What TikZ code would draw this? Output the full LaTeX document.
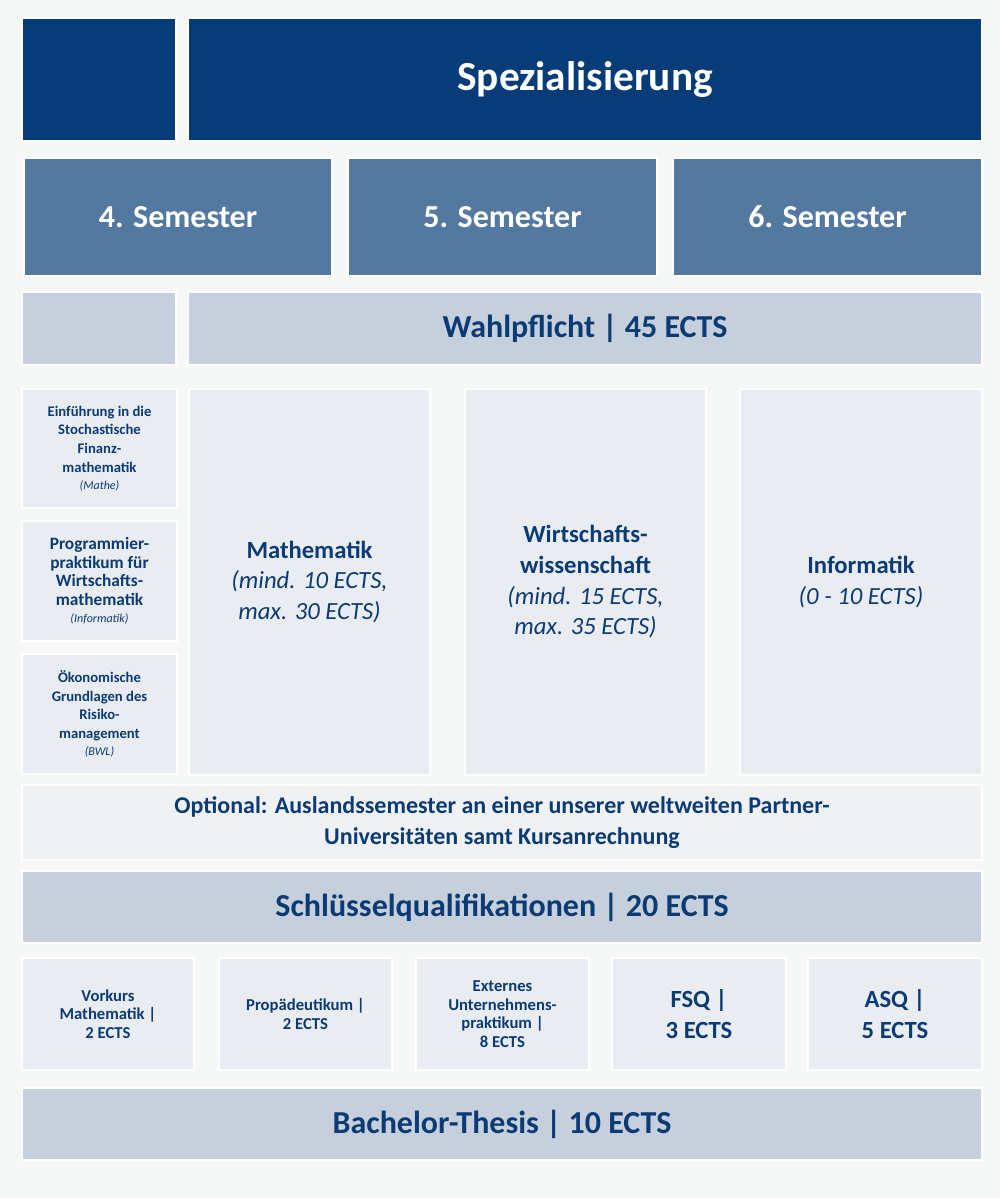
\documentclass[tikz,border=0pt]{standalone}
\usepackage{fontspec}
\setmainfont{Carlito}
\usetikzlibrary{positioning}
\definecolor{ink}{HTML}{0B3B74}
\definecolor{darkbox}{HTML}{083C78}
\definecolor{midbox}{HTML}{5479A0}
\definecolor{lightbox}{HTML}{C5D0DC}
\definecolor{paleblock}{HTML}{E9EDF2}
\definecolor{optbox}{HTML}{EFF1F2}
\definecolor{bg}{HTML}{F6F8F8}
% block from pixel corners: style, name, x0, y0, x1, y1, text
\newcommand{\blk}[7]{%
  \node[#1, minimum width={(#5-#3)*0.75pt}, minimum height={(#6-#4)*0.75pt}]
    (#2) at ({(#3+#5)/2},{(#4+#6)/2}) {#7};}
\begin{document}
\begin{tikzpicture}[x=0.75pt, y=-0.75pt,
  box/.style={draw=white, line width=1.5pt, inner sep=0pt, align=center, text=ink, font=\bfseries},
  head/.style={box, fill=darkbox, text=white, font=\fontsize{31}{36}\selectfont\bfseries},
  sem/.style={box, fill=midbox, text=white, font=\fontsize{24}{28}\selectfont\bfseries},
  band/.style={box, fill=lightbox, font=\fontsize{24}{28}\selectfont\bfseries},
  field/.style={box, fill=paleblock, font=\fontsize{18.5}{23}\selectfont\bfseries},
  course/.style={box, fill=paleblock, font=\fontsize{11}{14}\selectfont\bfseries},
  note/.style={box, fill=optbox, font=\fontsize{18}{23}\selectfont\bfseries}]
  \fill[bg] (0,0) rectangle (1000,1198);
  \useasboundingbox (0,0) rectangle (1000,1198);

  % Spezialisierung
  \blk{head}{corner}{22}{18}{176}{141}{}
  \blk{head}{spez}{188}{18}{982}{141}{Spezialisierung}

  % Semester
  \blk{sem}{sem4}{24}{158}{332}{276}{4. Semester}
  \blk{sem}{sem5}{348}{158}{657}{276}{5. Semester}
  \blk{sem}{sem6}{673}{158}{982}{276}{6. Semester}

  % Wahlpflicht
  \blk{band}{wpcorner}{22}{292}{176}{365}{}
  \blk{band}{wahl}{188}{292}{982}{365}{Wahlpflicht | 45 ECTS}

  % Pflichtmodule links
  \blk{course}{stoch}{22}{389}{177}{508}{Einführung in die\\Stochastische\\Finanz-\\mathematik\\[-1pt]{\fontsize{9}{11}\selectfont\mdseries\itshape (Mathe)}}
  \blk{course}{prog}{22}{521}{177}{641}{\fontsize{13}{16}\selectfont Programmier-\\\fontsize{13}{16}\selectfont praktikum für\\\fontsize{13}{16}\selectfont Wirtschafts-\\\fontsize{13}{16}\selectfont mathematik\\[-1pt]{\fontsize{9}{11}\selectfont\mdseries\itshape (Informatik)}}
  \blk{course}{oeko}{22}{654}{177}{774}{Ökonomische\\Grundlagen des\\Risiko-\\management\\[-1pt]{\fontsize{9}{11}\selectfont\mdseries\itshape (BWL)}}

  % Wahlpflichtbereiche
  \blk{field}{mathe}{189}{389}{430}{775}{Mathematik\\{\mdseries\itshape (mind. 10 ECTS,}\\{\mdseries\itshape max. 30 ECTS)}}
  \blk{field}{wiwi}{465}{389}{706}{775}{Wirtschafts-\\wissenschaft\\{\mdseries\itshape (mind. 15 ECTS,}\\{\mdseries\itshape max. 35 ECTS)}}
  \blk{field}{info}{740}{389}{982}{775}{Informatik\\{\mdseries\itshape (0 - 10 ECTS)}}

  % Ausland
  \blk{note}{ausland}{22}{785}{982}{860}{Optional: Auslandssemester an einer unserer weltweiten Partner-\\Universitäten samt Kursanrechnung}

  % Schluesselqualifikationen
  \blk{band}{sq}{22}{871}{982}{943}{Schlüsselqualifikationen | 20 ECTS}
  \blk{course}{vork}{22}{958}{194}{1070}{\fontsize{12.5}{16}\selectfont Vorkurs\\\fontsize{12.5}{16}\selectfont Mathematik |\\\fontsize{12.5}{16}\selectfont 2 ECTS}
  \blk{course}{prop}{219}{958}{392}{1070}{\fontsize{12.5}{16}\selectfont Propädeutikum |\\\fontsize{12.5}{16}\selectfont 2 ECTS}
  \blk{course}{ext}{416}{958}{589}{1070}{\fontsize{12.5}{16}\selectfont Externes\\\fontsize{12.5}{16}\selectfont Unternehmens-\\\fontsize{12.5}{16}\selectfont praktikum |\\\fontsize{12.5}{16}\selectfont 8 ECTS}
  \blk{field}{fsq}{612}{958}{786}{1070}{FSQ |\\3 ECTS}
  \blk{field}{asq}{808}{958}{982}{1070}{ASQ |\\5 ECTS}

  % Bachelor-Thesis
  \blk{band}{thesis}{22}{1088}{982}{1160}{Bachelor-Thesis | 10 ECTS}
\end{tikzpicture}
\end{document}
